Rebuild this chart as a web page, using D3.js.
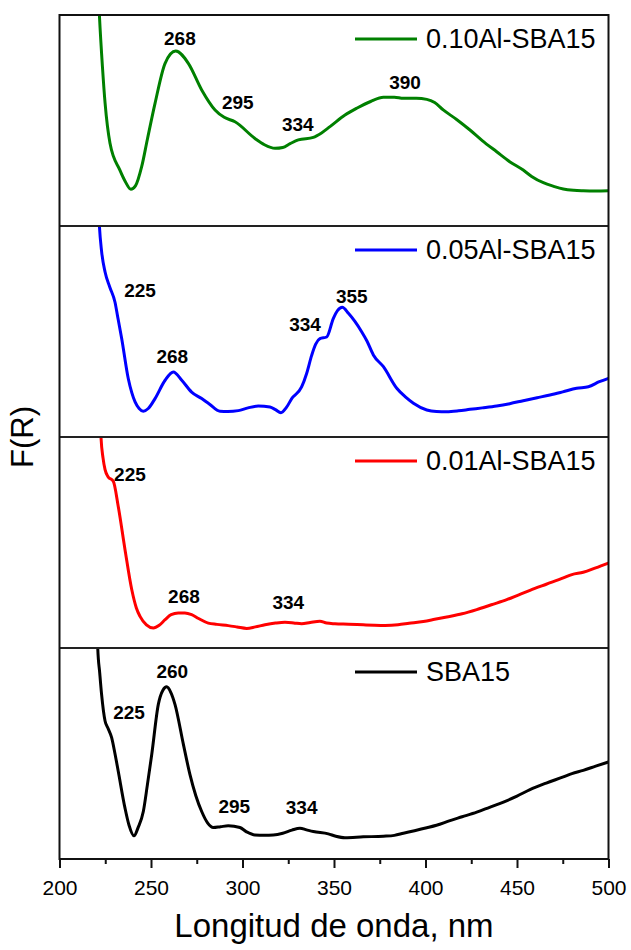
<!DOCTYPE html>
<html>
<head>
<meta charset="utf-8">
<script src="https://cdn.jsdelivr.net/npm/d3@7"></script>
<style>
  html, body { margin: 0; padding: 0; background: #fff; }
  text { font-family: "Liberation Sans", Arial, sans-serif; }
</style>
</head>
<body>
<svg id="chart" width="631" height="950"></svg>
<script>
// wavelength (nm) and F(R) (panel-relative units, 0 = bottom, 1 = top)
var nm010 = [221,221.8,223.5,224.9,227.6,233,236,239,241.5,244.9,248,252.2,257.7,263.5,270.4,277.7,285,290,295.9,306.8,312,317.8,322,326,330.5,338.7,343,347.8,356,362.4,370,377,383,387.9,395,400.7,405,409.7,417,424.3,431,438.9,446,453.4,458,464.4,470,475.3,481,486.2,493,500];
var f010  = [1.15,1.0,0.75,0.583,0.392,0.265,0.21,0.174,0.19,0.281,0.41,0.581,0.771,0.829,0.771,0.645,0.55,0.515,0.494,0.415,0.385,0.368,0.372,0.39,0.408,0.42,0.44,0.471,0.526,0.558,0.59,0.61,0.61,0.605,0.605,0.6,0.585,0.55,0.505,0.455,0.405,0.352,0.305,0.265,0.235,0.205,0.188,0.175,0.169,0.167,0.166,0.167];

var nm005 = [221,221.8,223,224.9,227.5,230.3,232,234,237.6,239.5,241.3,243.5,245.8,248.5,252.2,257.7,262.2,266.8,272.2,277.7,282,287.7,292,297.7,303,308.6,315,318,321,324,326.9,332.3,335,337.8,340,342.3,346,349.6,352,354.5,358,365.1,368,371.5,377,384.3,389,393.4,400.7,406,411.6,418,424.3,431,438.9,446,453.4,461,468,475,482.6,489,495,500];
var f005  = [1.15,1.0,0.88,0.782,0.71,0.64,0.56,0.466,0.276,0.21,0.166,0.135,0.122,0.135,0.182,0.269,0.308,0.269,0.213,0.182,0.155,0.122,0.121,0.125,0.138,0.147,0.142,0.13,0.115,0.14,0.182,0.237,0.3,0.387,0.44,0.466,0.474,0.561,0.6,0.615,0.585,0.499,0.455,0.389,0.333,0.231,0.19,0.16,0.128,0.121,0.12,0.124,0.131,0.138,0.147,0.158,0.172,0.186,0.199,0.214,0.231,0.238,0.262,0.278];

var nm001 = [222,222.7,223.8,224.9,226.5,229.4,232.1,235.8,239.5,242,244,247.5,251.3,254.5,257.7,261,264.9,268.5,272.2,276,281.3,286,292.2,297,302.3,307,312.3,318,323.2,328,332.3,337,342.3,346,350.5,358,366,372,377.9,385,391,398.8,405,411.6,420,428,436,444.4,451,457.1,466,475.3,480,486.2,493,500];
var f001  = [1.15,0.995,0.9,0.845,0.812,0.79,0.671,0.466,0.276,0.19,0.15,0.11,0.095,0.108,0.134,0.158,0.166,0.166,0.158,0.14,0.118,0.112,0.106,0.1,0.093,0.1,0.11,0.118,0.122,0.119,0.115,0.121,0.127,0.118,0.115,0.113,0.11,0.108,0.107,0.11,0.117,0.126,0.136,0.147,0.162,0.182,0.205,0.229,0.252,0.273,0.302,0.332,0.348,0.359,0.38,0.403];

var nmSBA = [220.5,220.9,222,223,224.9,226.5,228.5,230.3,232.1,235.8,238,240.7,243,245.8,248,250.4,254,256.5,258.6,260.8,263.1,267.7,271.3,274.5,277.7,281,284,288,292.2,298.6,302,306.8,312,316.8,322,327,331.4,335,338.7,346.9,351,356,366,377,383,387.9,394,400.7,406,413.4,420,428,435,442.6,450,457.1,466,475.3,480,486.2,493,500];
var fSBA  = [1.15,1.0,0.88,0.78,0.654,0.62,0.575,0.5,0.416,0.241,0.16,0.11,0.15,0.225,0.35,0.495,0.733,0.8,0.816,0.79,0.733,0.543,0.4,0.3,0.225,0.17,0.149,0.153,0.157,0.149,0.13,0.114,0.113,0.114,0.122,0.137,0.146,0.138,0.13,0.119,0.108,0.101,0.105,0.108,0.112,0.122,0.134,0.148,0.16,0.182,0.2,0.222,0.245,0.27,0.298,0.329,0.36,0.389,0.405,0.42,0.44,0.46];

var seriesNames  = ['0.10Al-SBA15', '0.05Al-SBA15', '0.01Al-SBA15', 'SBA15'];
var seriesColors = ['#008000', '#0000ff', '#ff0000', '#000000'];

// peak labels: [text, nm, F] per panel
var labels010 = [['268', 265.8, 0.89], ['295', 297.4, 0.584], ['334', 330.2, 0.479], ['390', 388.8, 0.679]];
var labels005 = [['225', 244, 0.695], ['268', 261.6, 0.382], ['334', 334.2, 0.532], ['355', 359.7, 0.668]];
var labels001 = [['225', 238.5, 0.821], ['268', 268, 0.245], ['334', 325, 0.217]];
var labelsSBA = [['225', 238, 0.695], ['260', 261.6, 0.89], ['295', 295.5, 0.248], ['334', 332.3, 0.242]];

var xMajor = [200, 250, 300, 350, 400, 450, 500];
var xMinor = [225, 275, 325, 375, 425, 475];

(function () {
  var panels = [
    { nm: nm010, f: f010, labels: labels010 },
    { nm: nm005, f: f005, labels: labels005 },
    { nm: nm001, f: f001, labels: labels001 },
    { nm: nmSBA, f: fSBA, labels: labelsSBA }
  ];

  var plotL = 59.5, plotR = 608.5, plotT = 15, panelH = 211;
  var plotB = plotT + panelH * panels.length;

  var svg = d3.select('#chart');

  var x = d3.scaleLinear().domain([200, 500]).range([plotL, plotR]);

  panels.forEach(function (p, i) {
    var y0 = plotT + i * panelH;
    var y = d3.scaleLinear().domain([0, 1]).range([y0 + panelH, y0]);
    var pts = p.nm.map(function (d, j) { return [d, p.f[j]]; });

    svg.append('clipPath').attr('id', 'clip' + i)
      .append('rect')
      .attr('x', plotL).attr('y', y0)
      .attr('width', plotR - plotL).attr('height', panelH);

    var line = d3.line()
      .x(function (d) { return x(d[0]); })
      .y(function (d) { return y(d[1]); })
      .curve(d3.curveMonotoneX);

    svg.append('path')
      .datum(pts)
      .attr('clip-path', 'url(#clip' + i + ')')
      .attr('fill', 'none')
      .attr('stroke', seriesColors[i])
      .attr('stroke-width', 3)
      .attr('stroke-linejoin', 'round')
      .attr('d', line);

    svg.selectAll(null)
      .data(p.labels)
      .enter().append('text')
      .attr('x', function (d) { return x(d[1]); })
      .attr('y', function (d) { return y(d[2]); })
      .attr('text-anchor', 'middle')
      .attr('dominant-baseline', 'central')
      .style('font-size', '19px')
      .style('font-weight', 'bold')
      .text(function (d) { return d[0]; });

    // legend
    var ly = y0 + 24;
    svg.append('line')
      .attr('x1', 355).attr('x2', 417)
      .attr('y1', ly).attr('y2', ly)
      .attr('stroke', seriesColors[i])
      .attr('stroke-width', 3);
    svg.append('text')
      .attr('x', 426).attr('y', ly)
      .attr('dominant-baseline', 'central')
      .style('font-size', '27px')
      .text(seriesNames[i]);

    if (i > 0) {
      svg.append('line')
        .attr('x1', plotL).attr('x2', plotR)
        .attr('y1', y0).attr('y2', y0)
        .attr('stroke', '#222').attr('stroke-width', 2);
    }
  });

  // frame
  svg.append('rect')
    .attr('x', plotL).attr('y', plotT)
    .attr('width', plotR - plotL).attr('height', plotB - plotT)
    .attr('fill', 'none')
    .attr('stroke', '#111')
    .attr('stroke-width', 2);

  // bottom axis
  var gx = svg.append('g').attr('transform', 'translate(0,' + plotB + ')');
  gx.call(d3.axisBottom(x).tickValues(xMajor).tickSize(9).tickPadding(12).tickFormat(d3.format('d')));
  gx.append('g').call(d3.axisBottom(x).tickValues(xMinor).tickSize(5).tickFormat(''))
    .select('.domain').remove();
  gx.select('.domain').remove();
  gx.selectAll('line').attr('stroke', '#111').attr('stroke-width', 2);
  gx.selectAll('text')
    .style('font-family', '"Liberation Sans", Arial, sans-serif')
    .style('font-size', '21px')
    .attr('fill', '#000');

  svg.append('text')
    .attr('x', (plotL + plotR) / 2)
    .attr('y', 937)
    .attr('text-anchor', 'middle')
    .style('font-size', '33px')
    .text('Longitud de onda, nm');

  svg.append('text')
    .attr('transform', 'translate(33,' + ((plotT + plotB) / 2) + ') rotate(-90)')
    .attr('text-anchor', 'middle')
    .style('font-size', '31px')
    .text('F(R)');
})();
</script>
</body>
</html>
